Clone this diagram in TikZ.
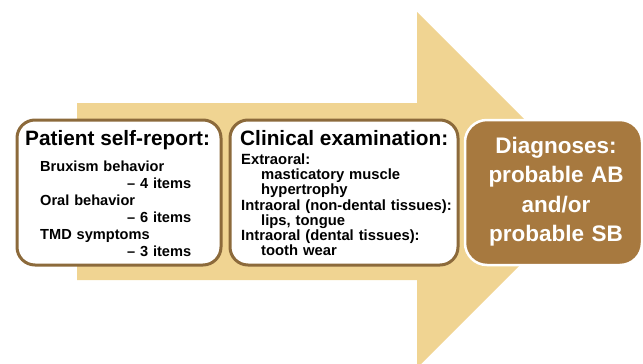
\documentclass[tikz,border=0pt]{standalone}
\usepackage{fontspec}
\setmainfont{Liberation Sans}
\definecolor{arrowgold}{HTML}{F0D492}
\definecolor{boxbrown}{HTML}{8C6A3B}
\definecolor{diagbrown}{HTML}{A7793F}
\begin{document}
\begin{tikzpicture}[x=1pt,y=-1pt,
  infobox/.style={draw=boxbrown, line width=3pt, fill=white, rounded corners=18pt, inner sep=0pt},
  diagbox/.style={draw=white, line width=2.5pt, fill=diagbrown, rounded corners=22pt, inner sep=0pt},
  titletext/.style={anchor=base west, inner sep=0pt, font=\fontsize{20.8}{24}\selectfont\bfseries},
  bodyone/.style={anchor=base west, inner sep=0pt, text width=151pt, align=left, font=\fontsize{14.6}{17}\selectfont\bfseries},
  bodytwo/.style={anchor=base west, inner sep=0pt, text width=215pt, align=left, font=\fontsize{14.8}{15.25}\selectfont\bfseries},
  diagtext/.style={anchor=base, inner sep=0pt, text width=170pt, align=center, text=white, font=\fontsize{22.5}{29.5}\selectfont\bfseries}
]
\useasboundingbox (0,0) rectangle (643,364);
\clip (0,0) rectangle (643,364);
% big arrow
\fill[arrowgold] (77,103) -- (417,103) -- (417,12) -- (595,190) -- (417,368) -- (417,280) -- (77,280) -- cycle;
% boxes
\node[infobox, minimum width=204pt, minimum height=145pt] (selfreport) at (119,192.5) {};
\node[infobox, minimum width=228pt, minimum height=145pt] (clinical) at (344,192.5) {};
\node[diagbox, minimum width=177pt, minimum height=145pt] (diagnoses) at (553.5,192.5) {};
% texts
\node[titletext] (t1) at (25,145) {Patient self-report:};
\node[bodyone] (b1) at (40,171.7) {Bruxism behavior\\ \hfill– 4 items\\ Oral behavior\\ \hfill– 6 items\\ TMD symptoms\\ \hfill– 3 items};
\node[titletext] (t2) at (240,145) {Clinical examination:};
\node[bodytwo] (b2) at (241,164.3) {Extraoral:\\ \hspace*{20pt}masticatory muscle\\ \hspace*{20pt}hypertrophy\\ Intraoral (non-dental tissues):\\ \hspace*{20pt}lips, tongue\\ Intraoral (dental tissues):\\ \hspace*{20pt}tooth wear};
\node[diagtext] (t3) at (556,153.3) {Diagnoses:\\ probable AB\\ and/or\\ probable SB};
\end{tikzpicture}
\end{document}
